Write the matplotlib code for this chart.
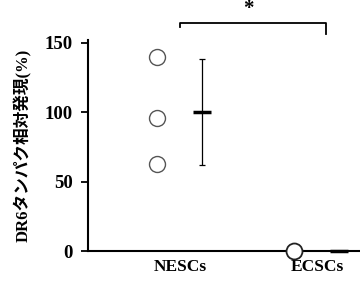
import numpy as np
from matplotlib import pyplot as plt

plt.rcParams['font.family'] = ['Liberation Serif', 'Noto Sans CJK JP']

groups = ["NESCs", "ECSCs"]
nesc_vals = [140, 96, 63]
ecsc_vals = [0]
means = [100, 0]
errs = [38, 0]
yticks = [0, 50, 100, 150]

fig = plt.figure(figsize=(3.6, 2.87), dpi=100)
ax = fig.add_axes([0.244, 0.125, 0.756, 0.736])

pos = np.arange(len(groups))
# individual points
ax.plot([pos[0] - 0.17] * len(nesc_vals), nesc_vals, 'o', ms=11.5, mfc='white',
        mec='#555555', mew=1.0, clip_on=False, zorder=3)
ax.plot([pos[1] - 0.17] * len(ecsc_vals), ecsc_vals, 'o', ms=11.5, mfc='white',
        mec='#222222', mew=1.3, clip_on=False, zorder=3)

# mean and sd
for i in range(len(groups)):
    x = pos[i] + 0.16
    if errs[i] > 0:
        ax.errorbar(x, means[i], yerr=errs[i], fmt='none', ecolor='black',
                    elinewidth=0.9, capsize=2.5, capthick=0.9)
    ax.plot([x - 0.065, x + 0.065], [means[i], means[i]], color='black',
            lw=2.5, solid_capstyle='butt', clip_on=False, zorder=4)

# significance bracket
ax.plot([0, 0, 1.06, 1.06], [161, 164, 164, 156], color='black', lw=1.3,
        clip_on=False)
ax.text(0.5, 167, "*", ha='center', va='bottom', fontsize=15, fontweight='bold')

ax.set_xlim(-0.67, 1.31)
ax.set_ylim(0, 152)
ax.set_yticks(yticks)
ax.set_yticklabels([str(v) for v in yticks], fontsize=13.5, fontweight='bold')
ax.set_xticks(pos)
ax.set_xticklabels(groups, fontsize=12.5, fontweight='bold')
ax.tick_params(axis='x', length=0, pad=6)
ax.tick_params(axis='y', direction='out', length=5, width=1.3, pad=6)
ax.spines['top'].set_visible(False)
ax.spines['right'].set_visible(False)
ax.spines['left'].set_linewidth(1.5)
ax.spines['bottom'].set_linewidth(1.5)
ax.set_ylabel("DR6タンパク相対発現(%)", fontsize=12, fontweight='bold', labelpad=9)

fig.savefig("out.png", dpi=100)
